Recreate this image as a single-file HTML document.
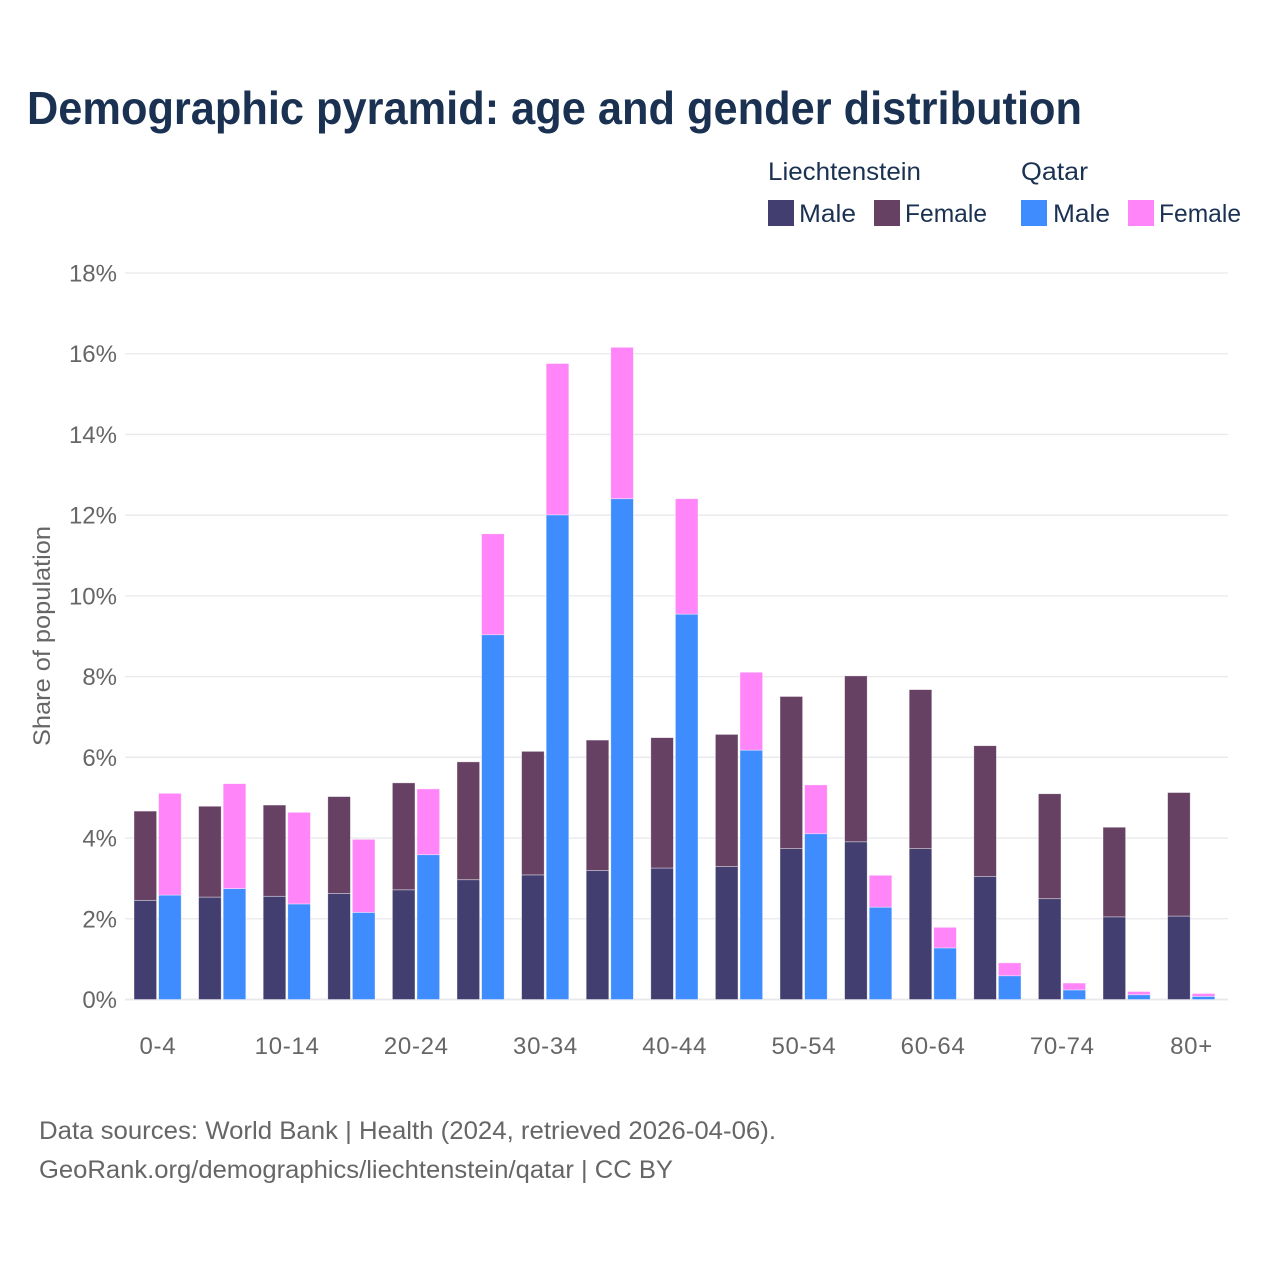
<!DOCTYPE html>
<html lang="en">
<head>
<meta charset="utf-8">
<title>Demographic pyramid</title>
<style>
html,body{margin:0;padding:0;background:#fff;}
svg{display:block;}
text{font-family:"Liberation Sans",sans-serif;}
</style>
</head>
<body>
<svg id="chart" xmlns="http://www.w3.org/2000/svg" width="1280" height="1280" viewBox="0 0 1280 1280">
  <rect width="1280" height="1280" fill="#fff"/>
  <text x="27" y="124" font-size="46" font-weight="700" fill="#1a3152" textLength="1055" lengthAdjust="spacingAndGlyphs">Demographic pyramid: age and gender distribution</text>

  <g font-size="25" fill="#1a3152">
    <text x="768" y="180" textLength="153" lengthAdjust="spacingAndGlyphs">Liechtenstein</text>
    <text x="1021" y="180" textLength="67" lengthAdjust="spacingAndGlyphs">Qatar</text>
    <rect x="768" y="200" width="26" height="26" fill="#423f70"/>
    <text x="799" y="222" textLength="57" lengthAdjust="spacingAndGlyphs">Male</text>
    <rect x="874" y="200" width="26" height="26" fill="#674163"/>
    <text x="905" y="222" textLength="82" lengthAdjust="spacingAndGlyphs">Female</text>
    <rect x="1021" y="200" width="26" height="26" fill="#3f8cff"/>
    <text x="1053" y="222" textLength="57" lengthAdjust="spacingAndGlyphs">Male</text>
    <rect x="1128" y="200" width="26" height="26" fill="#ff85f8"/>
    <text x="1159" y="222" textLength="82" lengthAdjust="spacingAndGlyphs">Female</text>
  </g>

  <g id="grid"></g>
  <g id="y-labels"></g>
  <g id="bars"></g>
  <g id="x-labels"></g>

  <text transform="translate(50,636) rotate(-90)" text-anchor="middle" font-size="24" fill="#666" textLength="220" lengthAdjust="spacingAndGlyphs">Share of population</text>

  <text x="39" y="1139" font-size="25" fill="#666" textLength="737" lengthAdjust="spacingAndGlyphs">Data sources: World Bank | Health (2024, retrieved 2026-04-06).</text>
  <text x="39" y="1178" font-size="25" fill="#666" textLength="634" lengthAdjust="spacingAndGlyphs">GeoRank.org/demographics/liechtenstein/qatar | CC BY</text>
</svg>
<script>
const ageGroups = ['0-4','5-9','10-14','15-19','20-24','25-29','30-34','35-39','40-44','45-49','50-54','55-59','60-64','65-69','70-74','75-79','80+'];
const liechtensteinMale = [2.47,2.55,2.57,2.64,2.73,2.98,3.10,3.21,3.27,3.31,3.75,3.92,3.75,3.06,2.51,2.06,2.08];
const liechtensteinFemale = [2.21,2.25,2.26,2.40,2.65,2.92,3.06,3.23,3.23,3.27,3.77,4.11,3.94,3.24,2.60,2.22,3.06];
const qatarMale = [2.60,2.76,2.38,2.17,3.60,9.05,12.02,12.42,9.56,6.19,4.12,2.30,1.29,0.60,0.25,0.13,0.09];
const qatarFemale = [2.52,2.60,2.27,1.81,1.63,2.50,3.75,3.75,2.86,1.93,1.21,0.79,0.51,0.32,0.17,0.08,0.07];
const yTicks = [0,2,4,6,8,10,12,14,16,18];
const labelledAges = ['0-4','10-14','20-24','30-34','40-44','50-54','60-64','70-74','80+'];

const NS = 'http://www.w3.org/2000/svg';
const plotLeft = 125, plotRight = 1228, plotBottom = 999.5, plotTop = 273, yMax = 18;
const groupStart = 126, groupStep = 64.6, barWidth = 22.6, barGap = 24.6, barYOffset = 0.5;
const yScale = v => plotBottom - (v / yMax) * (plotBottom - plotTop);
const xScale = i => groupStart + i * groupStep;

function make(tag, attrs, parent, text) {
  const el = document.createElementNS(NS, tag);
  for (const k in attrs) el.setAttribute(k, attrs[k]);
  if (text !== undefined) el.textContent = text;
  parent.appendChild(el);
  return el;
}

const gridGroup = document.getElementById('grid');
const yLabelGroup = document.getElementById('y-labels');
yTicks.forEach(t => {
  const line = make('line', {x1: plotLeft, x2: plotRight, y1: yScale(t), y2: yScale(t), stroke: '#e9e9ec', 'stroke-width': t === 0 ? 2 : 1.3}, gridGroup);
  
  
  const label = make('text', {x: 117, y: yScale(t) + 8.5, 'text-anchor': 'end', 'font-size': 24, fill: '#666'}, yLabelGroup, t + '%');
  
  
});

const barsGroup = document.getElementById('bars');
function drawBar(x, base, value, fill, name) {
  const top = yScale(base + value) + barYOffset, bottom = base === 0 ? yScale(0) : yScale(base) + barYOffset;
  const bar = make('rect', {x: x, y: top, width: barWidth, height: bottom - top, fill: fill, stroke: '#fff', 'stroke-opacity': 0.55, 'stroke-width': 0.7}, barsGroup);
  
  
}
ageGroups.forEach((age, i) => {
  const x = xScale(i) + 8;
  drawBar(x, 0, liechtensteinMale[i], '#423f70', 'bar-liechtenstein-male-' + age);
  drawBar(x, liechtensteinMale[i], liechtensteinFemale[i], '#674163', 'bar-liechtenstein-female-' + age);
  drawBar(x + barGap, 0, qatarMale[i], '#3f8cff', 'bar-qatar-male-' + age);
  drawBar(x + barGap, qatarMale[i], qatarFemale[i], '#ff85f8', 'bar-qatar-female-' + age);
  if (labelledAges.includes(age)) {
    const label = make('text', {x: x + barGap - 0.7, y: 1054, 'text-anchor': 'middle', 'font-size': 24, 'letter-spacing': 0.7, fill: '#666'}, document.getElementById('x-labels'), age);
    
    
  }
});
</script>
</body>
</html>
